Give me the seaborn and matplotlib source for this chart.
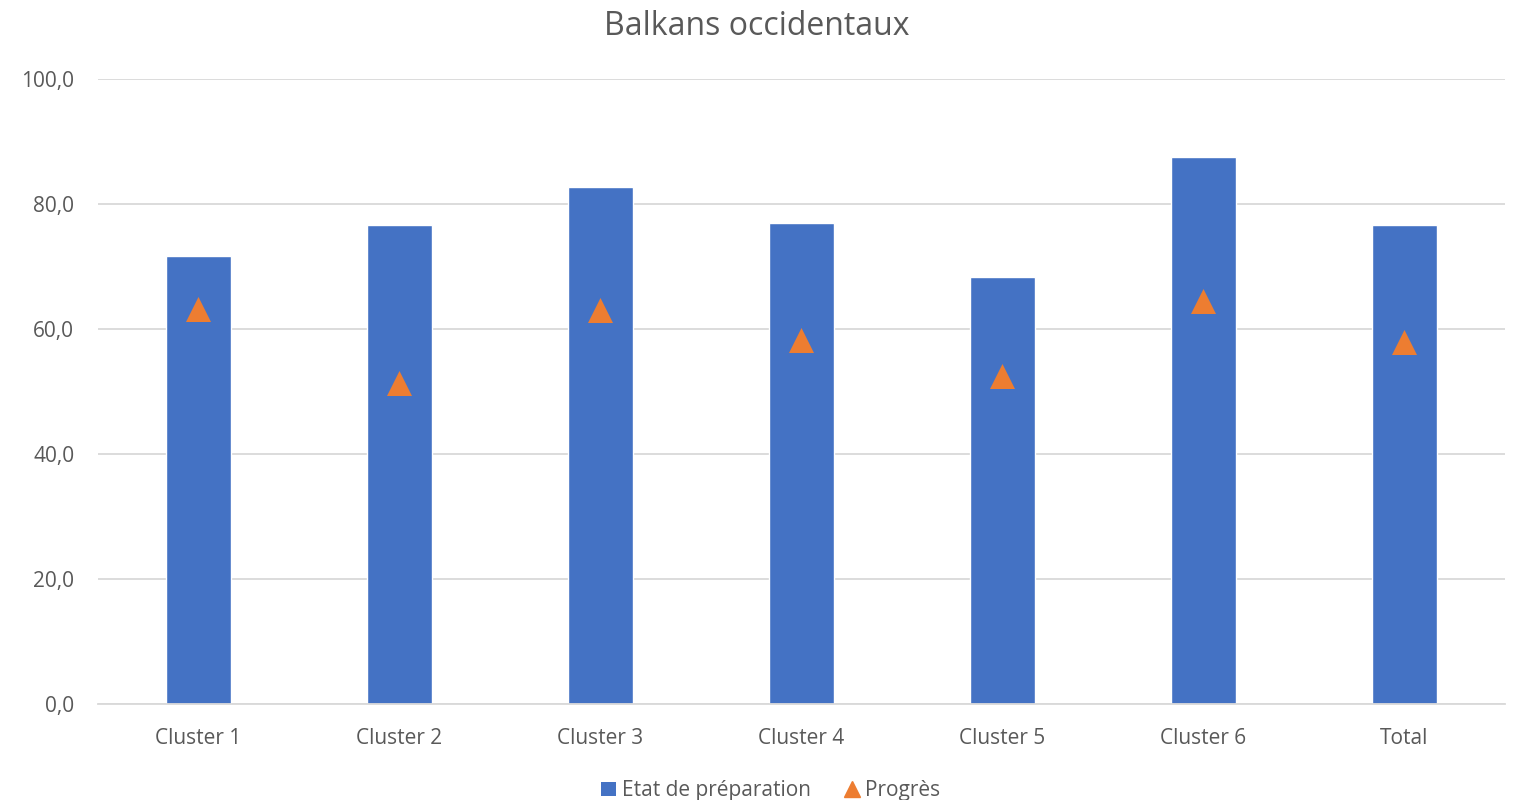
import matplotlib
matplotlib.use("Agg")
import matplotlib.pyplot as plt
import seaborn as sns
import pandas as pd
from matplotlib.lines import Line2D
from matplotlib.patches import Patch
from matplotlib.ticker import FuncFormatter

# data
categories = ["Cluster 1", "Cluster 2", "Cluster 3", "Cluster 4", "Cluster 5", "Cluster 6", "Total"]
etat = [71.7, 76.6, 82.7, 77.0, 68.3, 87.5, 76.7]
progres = [63.2, 51.4, 63.0, 58.3, 52.5, 64.5, 57.9]

bar_color = "#4472C4"
tri_color = "#ED7D31"
text_color = "#595959"

sns.set_theme(style="white")
plt.rcParams["font.family"] = ["Open Sans", "DejaVu Sans"]

df = pd.DataFrame({"cat": categories, "etat": etat, "progres": progres})

fig = plt.figure(figsize=(15.14, 8), dpi=100)
ax = fig.add_axes([0.0647, 0.12, 0.9293, 0.78125])

sns.barplot(data=df, x="cat", y="etat", color=bar_color, width=0.32,
            saturation=1, ax=ax, zorder=2)
sns.stripplot(data=df, x="cat", y="progres", marker="^", jitter=False,
              size=18, color=tri_color, linewidth=0, ax=ax, zorder=3)

ax.set_ylim(0, 100)
ax.set_xlim(-0.5, len(categories) - 0.5)
ax.set_yticks([0, 20, 40, 60, 80, 100])
ax.yaxis.set_major_formatter(FuncFormatter(lambda v, p: f"{v:.1f}".replace(".", ",")))
ax.grid(axis="y", color="#D9D9D9", linewidth=1.3, zorder=0)
ax.set_axisbelow(True)
for s in ["top", "right", "left"]:
    ax.spines[s].set_visible(False)
ax.spines["bottom"].set_color("#D9D9D9")
ax.spines["bottom"].set_linewidth(1.3)
ax.set_xlabel("")
ax.set_ylabel("")
ax.tick_params(axis="both", length=0, labelsize=15, colors=text_color)
ax.tick_params(axis="x", pad=17)
ax.tick_params(axis="y", pad=17)

fig.suptitle("Balkans occidentaux", fontsize=23, color=text_color, y=0.987)

handles = [
    Patch(facecolor=bar_color, edgecolor="none", label="Etat de préparation"),
    Line2D([], [], marker="^", linestyle="none", color=tri_color, markersize=11, label="Progrès"),
]
fig.legend(handles=handles, loc="lower center", bbox_to_anchor=(0.509, -0.025), ncol=2,
           frameon=False, fontsize=15, labelcolor=text_color, handlelength=0.7,
           handletextpad=0.3, columnspacing=1.6)

fig.savefig("out.png", dpi=100)
